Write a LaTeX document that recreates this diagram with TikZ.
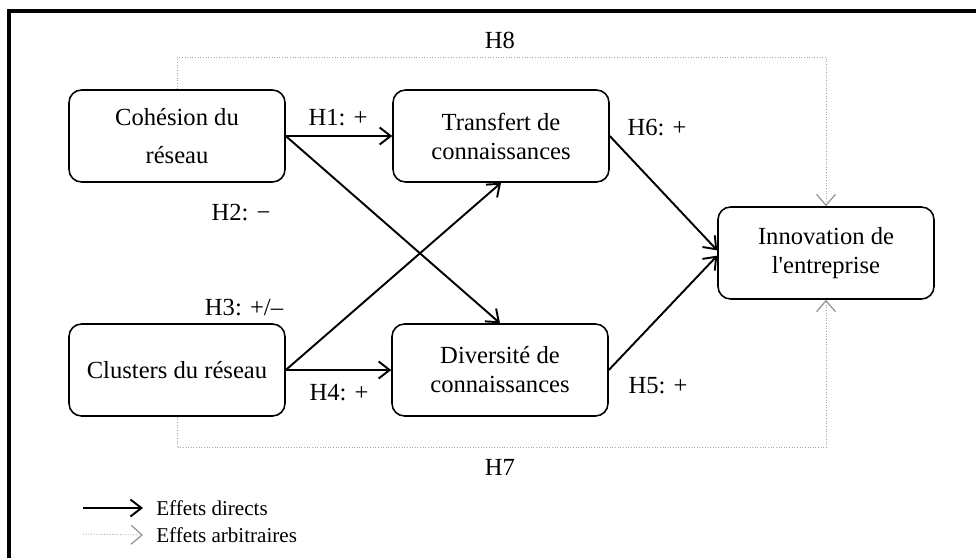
\documentclass[tikz,border=0pt]{standalone}
\usepackage{fontspec}
\setmainfont{Liberation Serif}[Ligatures=TeXOff]
\usetikzlibrary{arrows.meta}

\begin{document}
\begin{tikzpicture}[x=0.02cm,y=-0.02cm,
  font=\fontsize{14}{16.5}\selectfont,
  bloc/.style={draw,line width=0.9pt,rounded corners=0.25cm,minimum width=4.32cm,minimum height=1.84cm,align=center},
  effet/.style={line width=1.1pt,-{Straight Barb[length=2.2mm,width=3.4mm]}},
  arbitraire/.style={densely dotted,gray!70,line width=0.5pt,-{Straight Barb[length=2.2mm,width=3.8mm,line width=0.7pt,color=gray!85]}},
  legende/.style={anchor=west,inner sep=0pt,font=\fontsize{12}{14}\selectfont}]
  \useasboundingbox (0,0) rectangle (976,558);
  % cadre
  \draw[line width=2pt] (9,558) -- (9,11) -- (976,11);
  % blocs
  \node[bloc] (coh) at (177,136) {Cohésion du\\[5pt]réseau};
  \node[bloc] (clu) at (177,370) {Clusters du réseau};
  \node[bloc] (tra) at (501,136) {Transfert de\\connaissances};
  \node[bloc] (div) at (500,370) {Diversité de\\connaissances};
  \node[bloc] (inn) at (826,253) {Innovation de\\l'entreprise};
  % effets directs
  \draw[effet] (coh.east) -- (tra.west);
  \draw[effet] (coh.east) -- (div.north);
  \draw[effet] (clu.east) -- (tra.south);
  \draw[effet] (clu.east) -- (div.west);
  \draw[effet] (tra.east) -- ([yshift=1.5pt]inn.west);
  \draw[effet] (div.east) -- ([yshift=-1.5pt]inn.west);
  % effets arbitraires
  \draw[arbitraire] (coh.north) -- ++(0,-32) -| (inn.north);
  \draw[arbitraire] (clu.south) -- ++(0,31) -| (inn.south);
  % hypotheses
  \node (h1) at (338,118) {H1: +};
  \node (h2) at (241,213) {H2: −};
  \node (h3) at (244,308) {H3: +/–};
  \node (h4) at (339,393) {H4: +};
  \node (h6) at (657,128) {H6: +};
  \node (h5) at (658,386) {H5: +};
  \node (h8) at (500,40) {H8};
  \node (h7) at (500,467) {H7};
  % legende
  \coordinate (ld) at (83,508);
  \coordinate (la) at (83,534);
  \node[legende] (legd) at (156,508) {Effets directs};
  \node[legende] (lega) at (156,535) {Effets arbitraires};
  \draw[effet] (ld) -- ([xshift=-0.26cm]legd.west);
  \draw[arbitraire] (la) -- ([xshift=-0.26cm]lega.west);
\end{tikzpicture}
\end{document}
